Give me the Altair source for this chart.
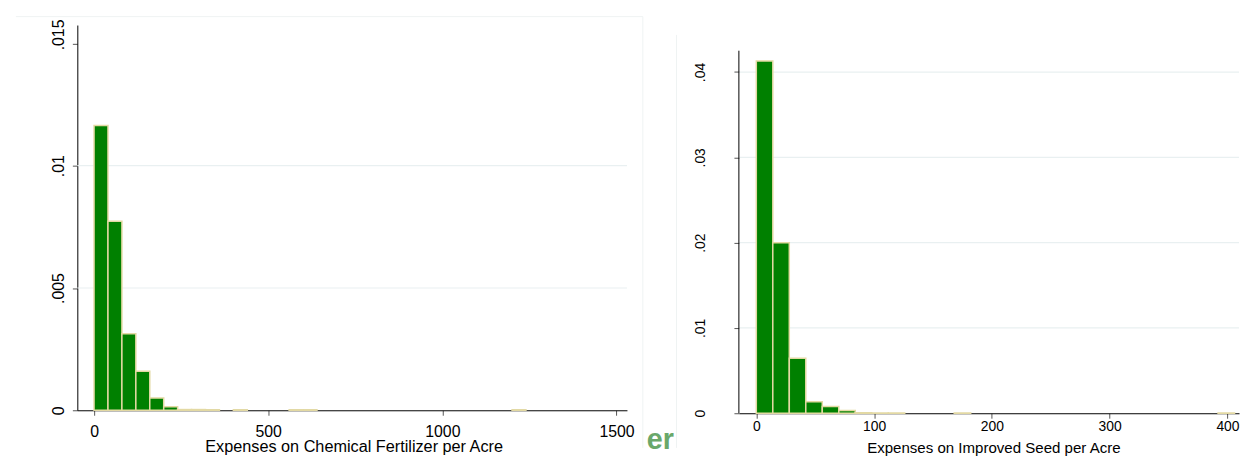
import altair as alt
import pandas as pd

# ---- data ----
fert_bin_start = [0, 40, 80, 120, 160, 200, 240, 280, 320, 400, 560, 600, 1200]
fert_density = [0.01164, 0.00773, 0.00313, 0.0016, 0.0005, 0.00014,
                0.00003, 0.00003, 0.00002, 0.00002, 0.00002, 0.00002, 0.00002]
fert_bin_width = 40
fert_ticks_x = [0, 500, 1000, 1500]
fert_ticks_y = [0, 0.005, 0.01, 0.015]
fert_grid_y = [0.005, 0.01]

seed_bin_start = [0, 14, 28, 42, 56, 70, 84, 98, 112, 168, 392]
seed_density = [0.0413, 0.0200, 0.00646, 0.00136, 0.00078, 0.00031,
                 0.00006, 0.00003, 0.00003, 0.00003, 0.00003]
seed_bin_width = 14
seed_ticks_x = [0, 100, 200, 300, 400]
seed_ticks_y = [0, 0.01, 0.02, 0.03, 0.04]
seed_grid_y = [0.01, 0.02, 0.03, 0.04]

FONT = "Liberation Sans"
GREEN = "#008000"
EDGE = "#e3d9a3"
GRID = "#e9f0f1"
FRAME = "#eff3f3"

fert = pd.DataFrame({"start": fert_bin_start, "density": fert_density})
fert["end"] = fert["start"] + fert_bin_width
seed = pd.DataFrame({"start": seed_bin_start, "density": seed_density})
seed["end"] = seed["start"] + seed_bin_width

ylab = "datum.value == 0 ? '0' : substring(format(datum.value, '.3~f'), 1)"


def panel(df, grid_vals, xdom, ydom, xticks, yticks, xtitle, w, h,
          xfont, yfont, titlefont, xlabpad, xtitlepad, ylabpad, title_x,
          show_domain_y, ylaboffset=0, axis_top=None, extra=()):
    xs = alt.Scale(domain=xdom, nice=False, zero=False)
    ys = alt.Scale(domain=ydom, nice=False, zero=False)
    xaxis = alt.Axis(values=xticks, title=xtitle, grid=False, format="d",
                     labelFont=FONT, labelFontSize=xfont, titleFont=FONT,
                     titleFontSize=titlefont, titleFontWeight="normal",
                     titleColor="#000", labelColor="#000", titleX=title_x,
                     tickSize=5, labelPadding=xlabpad, titlePadding=xtitlepad,
                     domainColor="#000", tickColor="#555", labelFlush=False)
    yaxis = alt.Axis(values=yticks, title=None, grid=False, labelFont=FONT,
                     labelFontSize=yfont, labelAngle=-90, labelAlign="center",
                     labelBaseline="bottom", labelExpr=ylab, labelColor="#000",
                     labelOffset=ylaboffset,
                     tickSize=5, labelPadding=ylabpad, domain=show_domain_y,
                     domainColor="#000", tickColor="#555")
    gdf = pd.DataFrame({"g": grid_vals})
    grid = alt.Chart(gdf).mark_rule(color=GRID, strokeWidth=1.2).encode(
        y=alt.Y("g:Q", scale=ys, axis=yaxis),
        x=alt.value(0), x2=alt.value(w))
    bars = alt.Chart(df).mark_bar(fill=GREEN, stroke=EDGE, strokeWidth=1.5).encode(
        x=alt.X("start:Q", scale=xs, axis=xaxis),
        x2="end:Q",
        y=alt.Y("density:Q", scale=ys, axis=yaxis),
        y2=alt.datum(0))
    layers = list(extra) + [grid, bars]
    if axis_top is not None:
        ax = alt.Chart(pd.DataFrame({"a": [0], "b": [axis_top]})).mark_rule(
            color="#000", strokeWidth=1).encode(
            x=alt.value(0), y=alt.Y("a:Q", scale=ys, axis=yaxis), y2="b:Q")
        layers.append(ax)
    return alt.layer(*layers).properties(width=w, height=h)


# faint borders of the pasted graph images (pixel offsets from left plot origin)
frame_top = alt.Chart(pd.DataFrame({"k": [0]})).mark_rule(
    color=FRAME, strokeWidth=1).encode(
    x=alt.value(-62), x2=alt.value(571), y=alt.value(-8.5))
frame_v1 = alt.Chart(pd.DataFrame({"k": [0]})).mark_rule(
    color=FRAME, strokeWidth=1).encode(
    x=alt.value(571), y=alt.value(-8.5), y2=alt.value(427))
frame_v2 = alt.Chart(pd.DataFrame({"k": [0]})).mark_rule(
    color=FRAME, strokeWidth=1).encode(
    x=alt.value(605), y=alt.value(10), y2=alt.value(427))

left = panel(fert, fert_grid_y, [-48, 1530], [0, 0.01575], fert_ticks_x,
             fert_ticks_y, "Expenses on Chemical Fertilizer per Acre", 555, 389,
             16, 16, 16.4, 8, 0, 6, 279, True,
             ylaboffset={"condition": {"test": "datum.value > 0.012", "value": -9},
                         "value": 0},
             extra=(frame_top, frame_v1, frame_v2))

er_text = alt.Chart(pd.DataFrame({"t": ["er"]})).mark_text(
    font=FONT, fontSize=29, fontWeight="bold", color="#6aa86a", align="left",
    baseline="alphabetic").encode(text="t:N", x=alt.value(-93), y=alt.value(428))

right = panel(seed, seed_grid_y, [-14.8, 409.8], [0, 0.04551], seed_ticks_x,
              seed_ticks_y, "Expenses on Improved Seed per Acre", 505, 392,
              14, 14, 15.2, 1, 8, 27, 257, False, axis_top=0.0425,
              extra=(er_text,))

chart = alt.hconcat(left, right, spacing=113, bounds="flush").properties(
    padding={"left": 7, "top": 6, "right": 0, "bottom": 0},
    background="white"
).configure_view(stroke=None)

chart.save("out.html", embed_options={"renderer": "svg", "actions": False})
